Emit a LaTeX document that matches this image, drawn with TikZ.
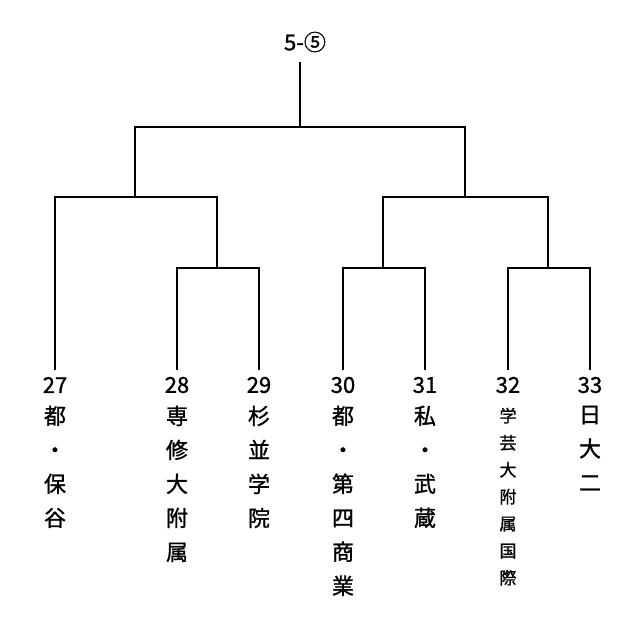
\documentclass[tikz,border=0pt]{standalone}
\usepackage{fontspec}
\setmainfont{Noto Sans CJK JP}[FakeBold=1.2,AutoFakeBold=1.2]
\begin{document}
\begin{tikzpicture}[x=1pt,y=1pt,line width=1.6pt,
  num/.style={font=\fontsize{22}{22}\selectfont,inner sep=0pt},
  team/.style={font=\fontsize{22}{34}\selectfont,align=center,anchor=north,inner sep=0pt},
  smallteam/.style={font=\fontsize{17}{27}\selectfont,align=center,anchor=north,inner sep=0pt}]
\useasboundingbox (0,0) rectangle (640,-625);
\node[num] (top) at (305,-42) {5-⑤};
\coordinate (r) at (300,-127);
\coordinate (L) at (135,-197); \coordinate (R) at (465,-197);
\coordinate (L2) at (217,-268); \coordinate (R1) at (383,-268); \coordinate (R2) at (548,-268);
\foreach \n/\x in {27/55,28/177,29/259,30/343,31/425,32/508,33/590}{
  \node[num] (n\n) at (\x,-385) {\n};
  \coordinate (e\n) at (\x,-370);
}
\draw (300,-62) -- (r);
\draw (L) |- (r) -| (R);
\draw (e27) |- (L) -| (L2);
\draw (e28) |- (L2) -| (e29);
\draw (R1) |- (R) -| (R2);
\draw (e30) |- (R1) -| (e31);
\draw (e32) |- (R2) -| (e33);
\node[team] (t27) at (55,-405) {都\\・\\保\\谷};
\node[team] (t28) at (177,-405) {専\\修\\大\\附\\属};
\node[team] (t29) at (259,-405) {杉\\並\\学\\院};
\node[team] (t30) at (343,-405) {都\\・\\第\\四\\商\\業};
\node[team] (t31) at (425,-405) {私\\・\\武\\蔵};
\node[smallteam] (t32) at (508,-407) {学\\芸\\大\\附\\属\\国\\際};
\node[team] (t33) at (590,-405) {日\\大\\二};
\end{tikzpicture}
\end{document}
